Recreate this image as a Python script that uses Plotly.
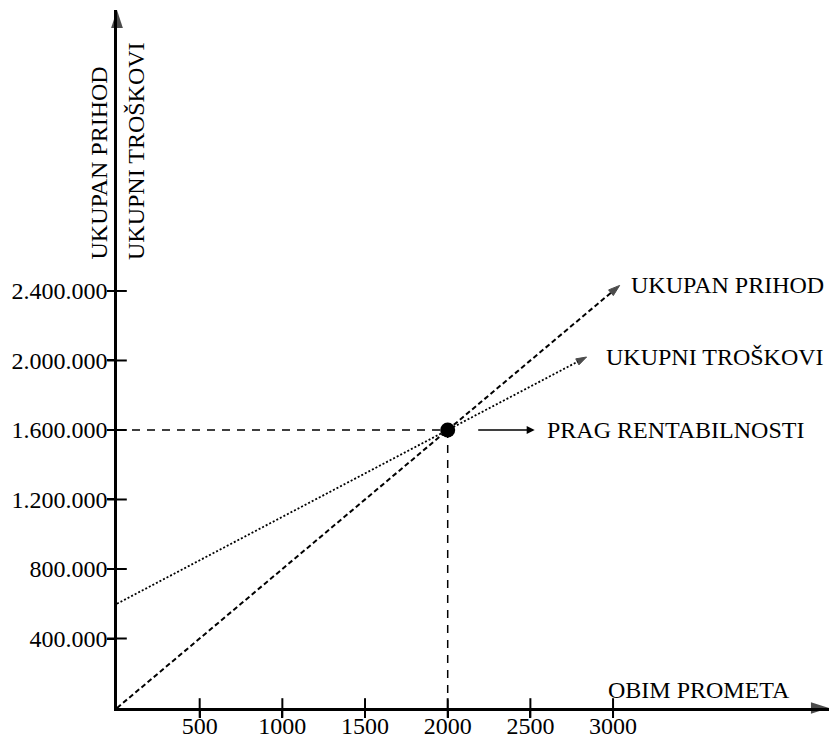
import plotly.graph_objects as go

# ---- data ----
q_prihod = [0, 2000, 3040]
prihod = [0, 1600000, 2432000]
q_troskovi = [0, 2000, 2840]
troskovi = [600000, 1600000, 2020000]
be_q = 2000
be_val = 1600000
x_ticks = [500, 1000, 1500, 2000, 2500, 3000]
x_tick_labels = ["500", "1000", "1500", "2000", "2500", "3000"]
y_ticks = [400000, 800000, 1200000, 1600000, 2000000, 2400000]
y_tick_labels = ["400.000", "800.000", "1.200.000", "1.600.000", "2.000.000", "2.400.000"]
X_MAX = 4306
Y_MAX = 4017000

FONT = "Liberation Serif"
FS = 24
BLACK = "black"

fig = go.Figure()

# break-even guide lines
fig.add_trace(go.Scatter(x=[0, be_q], y=[be_val, be_val], mode="lines",
                         line=dict(color=BLACK, width=1.5, dash="8px,7px"),
                         hoverinfo="skip"))
fig.add_trace(go.Scatter(x=[be_q, be_q], y=[be_val, 0], mode="lines",
                         line=dict(color=BLACK, width=1.5, dash="8px,7px"),
                         hoverinfo="skip"))

# total revenue
fig.add_trace(go.Scatter(x=q_prihod, y=prihod, mode="lines+markers",
                         line=dict(color=BLACK, width=2, dash="5px,3px"),
                         marker=dict(symbol="arrow", size=[0, 0, 12], angleref="previous",
                                     color=BLACK, line=dict(width=1, color=BLACK)),
                         cliponaxis=False))
# total costs
fig.add_trace(go.Scatter(x=q_troskovi, y=troskovi, mode="lines+markers",
                         line=dict(color=BLACK, width=1.8, dash="2px,2px"),
                         marker=dict(symbol="arrow", size=[0, 0, 11], angleref="previous",
                                     color=BLACK, line=dict(width=1, color=BLACK)),
                         cliponaxis=False))
# break-even point
fig.add_trace(go.Scatter(x=[be_q], y=[be_val], mode="markers",
                         marker=dict(symbol="circle", size=15, color=BLACK),
                         cliponaxis=False))

# axis arrowheads
fig.add_trace(go.Scatter(x=[0, X_MAX], y=[0, 0], mode="markers",
                         marker=dict(symbol="arrow", size=[0, 19], angleref="previous",
                                     color=BLACK, line=dict(width=0)),
                         cliponaxis=False))
fig.add_trace(go.Scatter(x=[0, 0], y=[0, Y_MAX], mode="markers",
                         marker=dict(symbol="arrow", size=[0, 19], angleref="previous",
                                     color=BLACK, line=dict(width=0)),
                         cliponaxis=False))

# inner halves of tick marks
fig.add_trace(go.Scatter(x=[0] * len(y_ticks), y=y_ticks, mode="markers",
                         marker=dict(symbol="line-ew", size=14,
                                     line=dict(color=BLACK, width=2)),
                         cliponaxis=False))
fig.add_trace(go.Scatter(x=x_ticks, y=[0] * len(x_ticks), mode="markers",
                         marker=dict(symbol="line-ns", size=14,
                                     line=dict(color=BLACK, width=2)),
                         cliponaxis=False))

annotations = [
    dict(x=q_prihod[-1], y=prihod[-1], text="UKUPAN PRIHOD", showarrow=False,
         xanchor="left", yanchor="middle", xshift=9),
    dict(x=q_troskovi[-1], y=troskovi[-1], text="UKUPNI TROŠKOVI", showarrow=False,
         xanchor="left", yanchor="middle", xshift=17),
    dict(x=be_q, y=be_val, text="", showarrow=True, ax=-58, ay=0, xshift=87,
         arrowhead=2, arrowsize=1, arrowwidth=1.6, arrowcolor=BLACK, standoff=0),
    dict(x=be_q, y=be_val, text="PRAG RENTABILNOSTI", showarrow=False,
         xanchor="left", yanchor="middle", xshift=97),
    dict(x=3000, y=0, text="OBIM PROMETA", showarrow=False,
         xanchor="left", yanchor="middle", xshift=-7, yshift=18),
    dict(x=0, xref="x", y=0.639, yref="paper", text="UKUPAN PRIHOD", showarrow=False,
         textangle=-90, xanchor="center", yanchor="bottom", xshift=-18),
    dict(x=0, xref="x", y=0.639, yref="paper", text="UKUPNI TROŠKOVI", showarrow=False,
         textangle=-90, xanchor="center", yanchor="bottom", xshift=19),
]

fig.update_layout(
    width=830, height=738,
    margin=dict(l=117, r=1, t=10, b=30),
    paper_bgcolor="white", plot_bgcolor="white",
    showlegend=False,
    font=dict(family=FONT, size=FS, color=BLACK),
    annotations=annotations,
    xaxis=dict(range=[0, X_MAX], showgrid=False, zeroline=False, automargin=False,
               showline=True, linecolor=BLACK, linewidth=2.5,
               tickmode="array", tickvals=x_ticks, ticktext=x_tick_labels,
               ticks="outside", ticklen=7, tickwidth=2, tickcolor=BLACK,
               ticklabelstandoff=-13,
               tickfont=dict(family=FONT, size=FS, color=BLACK)),
    yaxis=dict(range=[0, Y_MAX], showgrid=False, zeroline=False, automargin=False,
               showline=True, linecolor=BLACK, linewidth=2.5,
               tickmode="array", tickvals=y_ticks, ticktext=y_tick_labels,
               ticks="outside", ticklen=7, tickwidth=2, tickcolor=BLACK,
               ticklabelstandoff=-5,
               tickfont=dict(family=FONT, size=FS, color=BLACK)),
)

fig.write_html("out.html", config={"displayModeBar": False},
               post_script="document.body.style.margin='0';document.body.style.overflow='hidden';")
